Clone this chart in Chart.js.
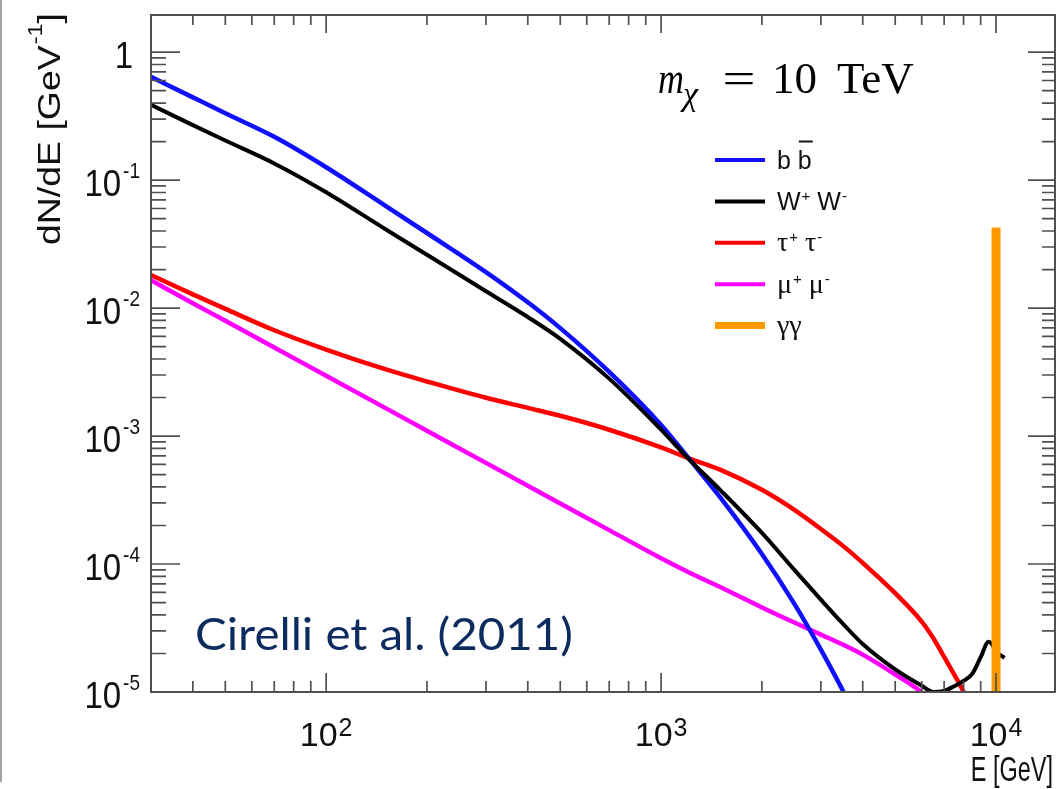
<!DOCTYPE html>
<html>
<head>
<meta charset="utf-8">
<script src="https://cdn.jsdelivr.net/npm/chart.js@4.4.1/dist/chart.umd.min.js"></script>
<style>
  html, body { margin: 0; padding: 0; background: #fff; }
  canvas { display: block; }
</style>
</head>
<body>
<canvas id="spectrum" width="1058" height="789"></canvas>
<script>
// photon spectra dN/dE for m_chi = 10 TeV
const energy = [30, 40, 50, 70, 100, 150, 200, 300, 400, 500, 700, 1000, 1200, 1500, 2000, 2500,
  3000, 3500, 4000, 5000, 6000, 6500, 7000, 7500, 8000, 8500, 9000, 9500, 9700, 10000, 10600];

const fluxBB = [0.641, 0.443, 0.333, 0.218, 0.126, 0.0632, 0.0386, 0.0191, 0.01109, 0.00697, 0.00317,
  0.001222, 6.87e-4, 3.33e-4, 1.197e-4, 4.88e-5, 2.14e-5, 1.01e-5, 5.1e-6,
  null, null, null, null, null, null, null, null, null, null, null, null];

const fluxWW = [0.387, 0.269, 0.204, 0.135, 0.0804, 0.0415, 0.0261, 0.01355, 0.00851, 0.00575, 0.00281,
  0.001122, 6.76e-4, 3.80e-4, 1.75e-4, 9.0e-5, 5.27e-5, 3.39e-5, 2.37e-5, 1.50e-5, 1.12e-5, 1.0e-5,
  1.02e-5, 1.11e-5, 1.22e-5, 1.39e-5, 1.87e-5, 2.47e-5, 2.38e-5, 2.07e-5, 1.85e-5];

const fluxTT = [0.0181, 0.0128, 0.00986, 0.00671, 0.00474, 0.00333, 0.00267, 0.00199, 0.00166, 0.00144,
  0.00112, 8.15e-4, 6.75e-4, 5.47e-4, 3.80e-4, 2.65e-4, 1.88e-4, 1.38e-4, 1.02e-4, 5.92e-5, 3.55e-5,
  2.63e-5, 1.88e-5, 1.37e-5, 1.0e-5, 6.5e-6, null, null, null, null, null];

const fluxMM = [0.0165, 0.0109, 0.00796, 0.00492, 0.00296, 0.00166, 0.00110, 6.17e-4, 4.09e-4, 2.97e-4,
  1.84e-4, 1.11e-4, 8.71e-5, 6.61e-5, 4.58e-5, 3.49e-5, 2.81e-5, 2.34e-5, 1.96e-5, 1.37e-5, 9.9e-6,
  7.9e-6, null, null, null, null, null, null, null, null, null];

// gamma-gamma line at E = m_chi
const gammaEnergy = [10000, 10000];
const gammaFlux = [1e-6, 0.0427];

const seriesNames = ['b b\u0305', 'W⁺ W⁻', 'τ⁺ τ⁻', 'μ⁺ μ⁻', 'γγ'];
const seriesColors = ['#1010ff', '#000000', '#ff0000', '#ff00ff', '#ff9900'];

const xTickValues = [100, 1000, 10000];
const xTickLabels = ['10²', '10³', '10⁴'];
const yTickValues = [1, 1e-1, 1e-2, 1e-3, 1e-4, 1e-5];
const yTickLabels = ['1', '10⁻¹', '10⁻²', '10⁻³', '10⁻⁴', '10⁻⁵'];

const xTitle = 'E [GeV]';
const yTitle = 'dN/dE [GeV⁻¹]';
const massNote = ['m', 'χ', '=', '10', 'TeV'];
const sourceNote = 'Cirelli et al. (2011)';

const SANS = '"Liberation Sans", Arial, Helvetica, sans-serif';
const SERIF = '"Liberation Serif", "Times New Roman", serif';

// --- small rich text helper: superscripts and overline ---
const SUP = { '⁺': '+', '⁻': '-', '⁰': '0', '¹': '1', '²': '2', '³': '3', '⁴': '4', '⁵': '5' };

function parseRich(str) {
  const parts = [];
  for (const ch of str) {
    if (ch === '\u0305' && parts.length) { parts[parts.length - 1].over = true; continue; }
    if (SUP[ch]) parts.push({ t: SUP[ch], sup: true });
    else parts.push({ t: ch, greek: /[\u0370-\u03ff]/.test(ch) });
  }
  return parts;
}

function richFont(p, st) {
  if (p.sup) return st.supSize + 'px ' + st.family;
  if (p.greek && st.greekFamily) return st.greekSize + 'px ' + st.greekFamily;
  return st.size + 'px ' + st.family;
}

function richWidth(ctx, parts, st) {
  let w = 0;
  parts.forEach((p, i) => {
    ctx.font = richFont(p, st);
    if (p.sup && (i === 0 || !parts[i - 1].sup)) w += st.supGap || 0;
    w += ctx.measureText(p.t).width;
  });
  return w;
}

function drawRich(ctx, parts, x, y, st) {
  parts.forEach((p, i) => {
    ctx.font = richFont(p, st);
    if (p.sup && (i === 0 || !parts[i - 1].sup)) x += st.supGap || 0;
    const w = ctx.measureText(p.t).width;
    const yy = p.sup ? y - st.supRise : y;
    ctx.fillText(p.t, x, yy);
    if (p.over) ctx.fillRect(x + 1, yy - st.size * 1.12, w, 2);
    x += w;
  });
  return x;
}

function drawLabel(ctx, str, x, y, st, align, sx, sy) {
  const parts = parseRich(str);
  ctx.save();
  ctx.translate(x, y);
  ctx.scale(sx || 1, sy || 1);
  const w = richWidth(ctx, parts, st);
  const start = align === 'right' ? -w : align === 'center' ? -w / 2 : 0;
  drawRich(ctx, parts, start, 0, st);
  ctx.restore();
}

const xTickStyle = { size: 34, supSize: 25, supRise: 10, supGap: 1, family: SANS };
const yTickStyle = { size: 33, supSize: 19, supRise: 16.3, supGap: 2, family: SANS };
const titleStyle = { size: 32, supSize: 20, supRise: 18, supGap: 1, family: SANS };
const legendStyle = { size: 25, supSize: 15, supRise: 9, supGap: 1, family: SANS, greekFamily: SERIF, greekSize: 28 };

const rootFrame = {
  id: 'rootFrame',
  beforeDraw(chart) {
    const { ctx, width, height } = chart;
    ctx.save();
    ctx.fillStyle = '#fff';
    ctx.fillRect(0, 0, width, height);
    ctx.fillStyle = '#a3a3a3';
    ctx.fillRect(0, 0, 2, 782);
    ctx.restore();
  },
  afterDraw(chart) {
    const { ctx, chartArea: a, scales: { x, y } } = chart;
    ctx.save();

    // frame + ticks on all four sides, ROOT style
    ctx.strokeStyle = '#505050';
    ctx.lineWidth = 2;
    ctx.strokeRect(a.left, a.top, a.right - a.left, a.bottom - a.top);
    ctx.lineWidth = 1.7;
    ctx.beginPath();
    for (let d = 1; d <= 4; d++) {
      for (let m = 1; m <= 9; m++) {
        const v = m * Math.pow(10, d);
        if (v <= x.min || v >= x.max) continue;
        const px = x.getPixelForValue(v);
        const major = m === 1;
        ctx.moveTo(px, a.bottom); ctx.lineTo(px, a.bottom - (major ? 19 : 11));
        ctx.moveTo(px, a.top); ctx.lineTo(px, a.top + (major ? 18 : 10));
      }
    }
    for (let d = -5; d <= 0; d++) {
      for (let m = 1; m <= 9; m++) {
        const v = m * Math.pow(10, d);
        if (v <= y.min * 1.0001 || v >= y.max) continue;
        const py = y.getPixelForValue(v);
        const major = m === 1;
        ctx.moveTo(a.left, py); ctx.lineTo(a.left + (major ? 29 : 15), py);
        ctx.moveTo(a.right, py); ctx.lineTo(a.right - (major ? 27 : 13), py);
      }
    }
    ctx.stroke();

    // tick labels
    ctx.fillStyle = '#111';
    ctx.textBaseline = 'alphabetic';
    ctx.textAlign = 'left';
    xTickValues.forEach((v, i) => {
      drawLabel(ctx, xTickLabels[i], x.getPixelForValue(v), 746, xTickStyle, 'center');
    });
    yTickValues.forEach((v, i) => {
      const lab = yTickLabels[i];
      const right = /[⁰-⁹⁺⁻¹²³]/.test(lab) ? 140 : 133;
      drawLabel(ctx, lab, right, y.getPixelForValue(v) + 16, yTickStyle, 'right', 1, 1.12);
    });

    // axis titles
    drawLabel(ctx, xTitle, 1053, 781, { size: 29, family: SANS }, 'right', 0.81, 1.18);
    const tp = parseRich(yTitle);
    ctx.save();
    ctx.translate(60, 245);
    ctx.rotate(-Math.PI / 2);
    const tw = richWidth(ctx, tp, titleStyle);
    ctx.scale(232 / tw, 1);
    drawRich(ctx, tp, 0, 0, titleStyle);
    ctx.restore();

    // legend
    chart.data.datasets.forEach((ds, i) => {
      const cy = 160 + i * 41.4;
      ctx.strokeStyle = ds.borderColor;
      ctx.lineWidth = i === 4 ? 7 : 4;
      ctx.beginPath();
      ctx.moveTo(715, cy); ctx.lineTo(765, cy);
      ctx.stroke();
      ctx.fillStyle = '#111';
      drawLabel(ctx, ds.label, 777, cy + 8.5, legendStyle, 'left');
    });

    // m_chi = 10 TeV
    ctx.fillStyle = '#000';
    ctx.font = 'italic 45px ' + SERIF;
    const mw = ctx.measureText(massNote[0]).width;
    ctx.save();
    ctx.translate(658, 93);
    ctx.scale(26 / mw, 1);
    ctx.fillText(massNote[0], 0, 0);
    ctx.restore();
    ctx.font = 'italic 34px ' + SERIF;
    ctx.fillText(massNote[1], 683, 104.5);
    ctx.font = '45px ' + SERIF;
    ctx.save();
    ctx.translate(739, 93);
    ctx.scale(1.3, 1);
    ctx.textAlign = 'center';
    ctx.fillText(massNote[2], 0, 0);
    ctx.restore();
    ctx.fillText(massNote[3], 772, 93);
    ctx.fillText(massNote[4], 837, 93);

    // source note
    ctx.fillStyle = '#0c2b5e';
    ctx.font = '44px Lato, "Open Sans", sans-serif';
    const sw = ctx.measureText(sourceNote).width;
    ctx.save();
    ctx.translate(195, 650);
    ctx.scale(378 / sw, 1);
    ctx.fillText(sourceNote, 0, 0);
    ctx.restore();

    ctx.restore();
  }
};

function series(xs, ys) {
  return xs.map((e, i) => ({ x: e, y: ys[i] }));
}

const widths = [4.5, 4, 4.5, 4.5, 9];
const orders = [2, 1, 3, 4, 0];
const allFlux = [fluxBB, fluxWW, fluxTT, fluxMM];

const datasets = allFlux.map((f, i) => ({
  label: seriesNames[i],
  data: series(energy, f),
  borderColor: seriesColors[i],
  borderWidth: widths[i],
  cubicInterpolationMode: 'monotone',
  order: orders[i]
}));
datasets.push({
  label: seriesNames[4],
  data: series(gammaEnergy, gammaFlux),
  borderColor: seriesColors[4],
  borderWidth: widths[4],
  borderCapStyle: 'butt',
  tension: 0,
  order: orders[4]
});

new Chart(document.getElementById('spectrum'), {
  type: 'line',
  data: { datasets: datasets },
  options: {
    responsive: false,
    animation: false,
    devicePixelRatio: 1,
    spanGaps: false,
    elements: { point: { radius: 0 } },
    layout: { padding: { left: 151, right: 3, top: 15, bottom: 97 } },
    scales: {
      x: { type: 'logarithmic', min: 30, max: 15000, display: false },
      y: { type: 'logarithmic', min: 1e-5, max: 1.95, display: false }
    },
    plugins: { legend: { display: false }, tooltip: { enabled: false } }
  },
  plugins: [rootFrame]
});
</script>
</body>
</html>
